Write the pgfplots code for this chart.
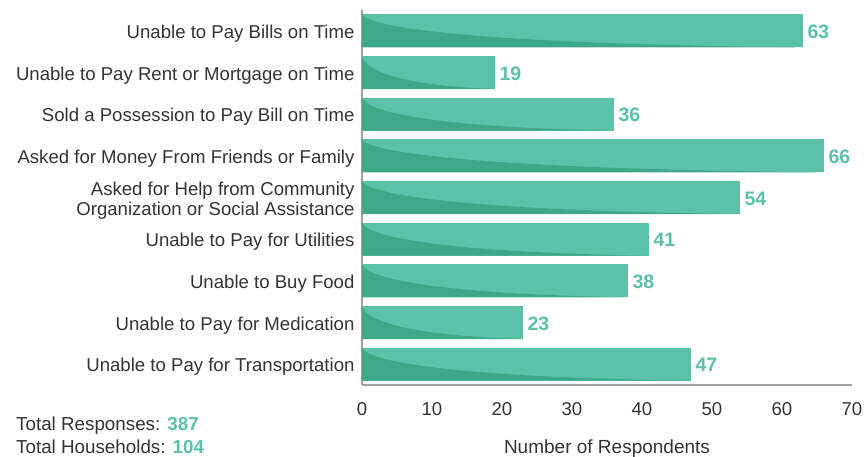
\documentclass[border=0pt]{standalone}
\usepackage{pgfplots}
\pgfplotsset{compat=1.18}
\usepackage{fontspec}
\setmainfont{Liberation Sans}
\definecolor{barlight}{HTML}{5BC2A7}
\definecolor{bardark}{HTML}{3FA887}
\definecolor{txt}{HTML}{333333}
\definecolor{axisgray}{HTML}{A0A0A0}
\newdimen\bxa \newdimen\bya \newdimen\bxb \newdimen\byb \newdimen\bw \newdimen\bh
\newcommand\darkcurve{%
  \pgfpointanchor{path picture bounding box}{south west}\pgfgetlastxy{\tmpx}{\tmpy}\bxa=\tmpx\relax\bya=\tmpy\relax
  \pgfpointanchor{path picture bounding box}{north east}\pgfgetlastxy{\tmpx}{\tmpy}\bxb=\tmpx\relax\byb=\tmpy\relax
  \bw=\dimexpr\bxb-\bxa\relax \bh=\dimexpr\byb-\bya\relax
  \pgfpathmoveto{\pgfqpoint{\bxa}{\byb}}%
  \pgfpathcurveto{\pgfqpoint{\dimexpr\bxa+0.02\bw\relax}{\dimexpr\byb-0.45\bh\relax}}{\pgfqpoint{\dimexpr\bxa+0.3\bw\relax}{\dimexpr\byb-0.9\bh\relax}}{\pgfqpoint{\bxb}{\bya}}%
  \pgfpathlineto{\pgfqpoint{\bxa}{\bya}}%
  \pgfpathclose
  \pgfsetfillcolor{bardark}\pgfusepath{fill}}
\tikzset{curvebar/.style={fill=barlight, draw=none, path picture={\darkcurve}}}
\begin{document}
\begin{tikzpicture}
\begin{axis}[
  at={(0pt,0pt)}, anchor=south west,
  scale only axis, width=490pt, height=375pt,
  xbar, bar width=33pt, bar shift=0pt,
  xmin=0, xmax=70, ymin=-0.5, ymax=8.5, y dir=reverse,
  xtick={0,10,...,70}, ytick={0,...,8},
  yticklabels={Unable to Pay Bills on Time, Unable to Pay Rent or Mortgage on Time, Sold a Possession to Pay Bill on Time, Asked for Money From Friends or Family, {Asked for Help from Community\\Organization or Social Assistance}, Unable to Pay for Utilities, Unable to Buy Food, Unable to Pay for Medication, Unable to Pay for Transportation},
  axis x line*=bottom, axis y line*=left,
  axis line style={-, draw=axisgray, line width=2pt},
  major tick length=0pt,
  /pgf/number format/assume math mode=true,
  tick label style={font=\fontsize{18.6}{19.5}\selectfont, text=txt},
  yticklabel style={align=right, xshift=-4pt, yshift=-3pt},
  xticklabel style={yshift=-14pt},
  xlabel={Number of Respondents},
  xlabel style={font=\fontsize{19}{21}\selectfont, text=txt, yshift=-17pt},
  clip=false,
]
\addplot[curvebar] coordinates {(63,0)};
\addplot[curvebar] coordinates {(19,1)};
\addplot[curvebar] coordinates {(36,2)};
\addplot[curvebar] coordinates {(66,3)};
\addplot[curvebar] coordinates {(54,4)};
\addplot[curvebar] coordinates {(41,5)};
\addplot[curvebar] coordinates {(38,6)};
\addplot[curvebar] coordinates {(23,7)};
\addplot[curvebar] coordinates {(47,8)};
\addplot[only marks, mark=none, nodes near coords,
  nodes near coords style={font=\fontsize{19.5}{20}\bfseries, text=barlight, anchor=west, xshift=1pt, yshift=-1pt}]
  coordinates {(63,0) (19,1) (36,2) (66,3) (54,4) (41,5) (38,6) (23,7) (47,8)};
\end{axis}
\node[anchor=west, inner sep=0pt, text=txt, font=\fontsize{18.8}{19}\selectfont] at (-346pt,-41pt) {Total Responses: \textcolor{barlight}{\bfseries 387}};
\node[anchor=west, inner sep=0pt, text=txt, font=\fontsize{18.8}{19}\selectfont] at (-346pt,-62pt) {Total Households: \textcolor{barlight}{\bfseries 104}};
\pgfresetboundingbox
\path[use as bounding box] (-362pt,-72pt) rectangle (505pt,385pt);
\end{tikzpicture}
\end{document}
